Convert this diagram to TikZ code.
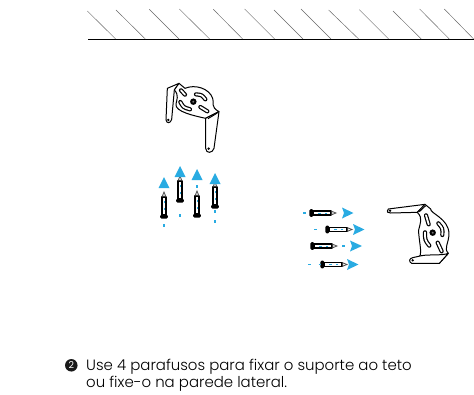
\documentclass[tikz,border=0pt]{standalone}
\usepackage{fontspec}
\setmainfont{Poppins Light}
\newfontfamily\numfont{Poppins}
\definecolor{skyb}{HTML}{29ABE2}
\tikzset{
  hatch/.style={draw=black!60,line width=.45pt},
  ground/.style={draw=black,line width=.9pt},
  plate/.style={draw=black,line width=1pt,fill=white,line join=round},
  slotout/.style={line width=4.2pt,line cap=round,draw=black},
  slotin/.style={line width=1.8pt,line cap=round,draw=white},
  tri/.style={fill=skyb,draw=none},
  dashb/.style={draw=skyb,line width=1.1pt},
  label/.style={anchor=base west,inner sep=0pt,font=\fontsize{14.95}{18}\selectfont,text=black},
  bullet/.style={circle,fill=black!90,text=white,inner sep=0pt,minimum size=12.5pt,font=\numfont\fontsize{9.5}{9.5}\selectfont}
}
\newcommand{\myslot}[3]{\draw[slotout] (#1) .. controls (#2) .. (#3);\draw[slotin] (#1) .. controls (#2) .. (#3);}
\newcommand{\myscrew}[3]{%
 \begin{scope}[shift={(#1,#2)},rotate=#3]
  \draw[line width=1.8pt,fill=white,line join=round] (2,-2)--(20,-2)--(20,2)--(2,2)--cycle;
  \draw[line width=.8pt,fill=white,draw=black!70] (20.8,-1.7)--(25,0)--(20.8,1.7)--cycle;
  \fill[black,rounded corners=1.2pt] (-1.6,-3.8) rectangle (2.2,3.8);
  \draw[dashb,line width=1pt] (7,0)--(9.5,0) (14,0)--(16,0);
 \end{scope}}
\begin{document}
\begin{tikzpicture}[x=1pt,y=-1pt]
\useasboundingbox (0,0) rectangle (474,394);
% ceiling
\draw[ground] (88,39.3)--(474,39.3);
\begin{scope}[shift={(80,0)},x=.3333pt,y=-.3333pt]
\foreach \a/\b/\c in {22/33/107,108/30/196,208/28/297,298/27/389,400/28/488,494/27/584,582/30/669,663/27/753,746/30/836,838/29/926,939/33/1024,1019/27/1108,1093/27/1181}
  \draw[hatch] (\a,\b)--(\c,117);
\end{scope}
% bracket one
\begin{scope}[shift={(140,70)},x=.3333pt,y=-.3333pt]
\draw[plate] (82,55)--(117,40)--(103,60)--(95,148) .. controls (92,160) and (80,162) .. (78,150)--cycle;
\draw[fill=black,draw=none] (85,150) circle (4);
\draw[plate] (117,40)--(135,55) .. controls (165,42) and (208,55) .. (218,85) .. controls (224,100) and (210,110) .. (237,125)--(197,145) .. controls (165,138) and (103,125) .. (108,102) .. controls (110,90) and (118,75) .. (103,60)--cycle;
\draw[plate] (197,145)--(237,125)--(222,235) .. controls (218,250) and (198,252) .. (197,235)--cycle;
\draw[plate] (204,146)--(232,129);
\draw[fill=black,draw=none] (206,236) circle (4);
\myslot{123,61}{129,67}{135,74}
\myslot{168,73}{186,75}{196,88}
\myslot{121,96}{130,112}{150,118}
\myslot{181,111}{190,120}{202,124}
\draw[black,line width=2pt,fill=black!55] (160,95) circle (6.5);
\end{scope}
% bracket two
\begin{scope}[shift={(380,195)},x=.3333pt,y=-.3333pt]
\draw[plate] (135,28)--(25,42) .. controls (18,50) and (25,56) .. (32,54)--(112,52)--cycle;
\draw[fill=black,draw=none] (30,47) circle (4);
\draw[plate] (112,52)--(135,28)--(152,42) .. controls (150,55) and (205,70) .. (207,115) .. controls (207,145) and (190,160) .. (205,175)--(178,205)--(118,185) .. controls (128,175) and (115,130) .. (116,105) .. controls (120,85) and (130,70) .. (112,52)--cycle;
\draw[plate] (118,50)--(137,32);
\draw[plate] (205,175)--(178,205)--(95,205) .. controls (85,200) and (88,190) .. (98,188)--(125,182) .. controls (145,178) and (190,182) .. (205,175)--cycle;
\draw[fill=black,draw=none] (98,196) circle (4);
\myslot{138,61}{141,75}{146,88}
\myslot{175,85}{188,100}{187,120}
\myslot{135,112}{135,135}{148,152}
\myslot{173,143}{180,155}{185,169}
\draw[black,line width=2pt,fill=black!55] (158,113) circle (6.5);
\end{scope}
% upward screws
\myscrew{164}{217}{90}
\myscrew{180}{201}{90}
\myscrew{197}{216}{90}
\myscrew{215}{207}{90}
\fill[tri] (164,177)--(169.5,188)--(158.5,188)--cycle;
\fill[tri] (180,166)--(185.5,177)--(174.5,177)--cycle;
\fill[tri] (197,169)--(202.5,180)--(191.5,180)--cycle;
\fill[tri] (215,173)--(220.5,184)--(209.5,184)--cycle;
\draw[dashb] (164,224)--(164,227) (180,214)--(180,217) (197,185)--(197,188) (215,210)--(215,212.5) (215,220)--(215,222.5);
% sideways screws
\myscrew{311}{213}{0}
\myscrew{327}{229.5}{0}
\myscrew{312}{246}{0}
\myscrew{322}{264.5}{0}
\fill[tri] (342,207.5)--(353.5,213)--(342,218.5)--(344,213)--cycle;
\fill[tri] (353,224)--(364.5,229.5)--(353,235)--(355,229.5)--cycle;
\fill[tri] (350,240.5)--(362,246)--(350,251.5)--(352,246)--cycle;
\fill[tri] (347,259)--(358.5,264.5)--(347,270)--(349,264.5)--cycle;
\draw[dashb] (303,213)--(306,213) (314,229.5)--(317,229.5) (342,246)--(345,246) (308,264.5)--(311,264.5) (318.5,264.5)--(321,264.5);
% text
\node[bullet] (num) at (71.3,365.3) {2};
\node[label] (lineone) at (86,370.3) {Use 4 parafusos para fixar o suporte ao teto};
\node[label] (linetwo) at (86,387.5) {ou fixe-o na parede lateral.};
\end{tikzpicture}
\end{document}
